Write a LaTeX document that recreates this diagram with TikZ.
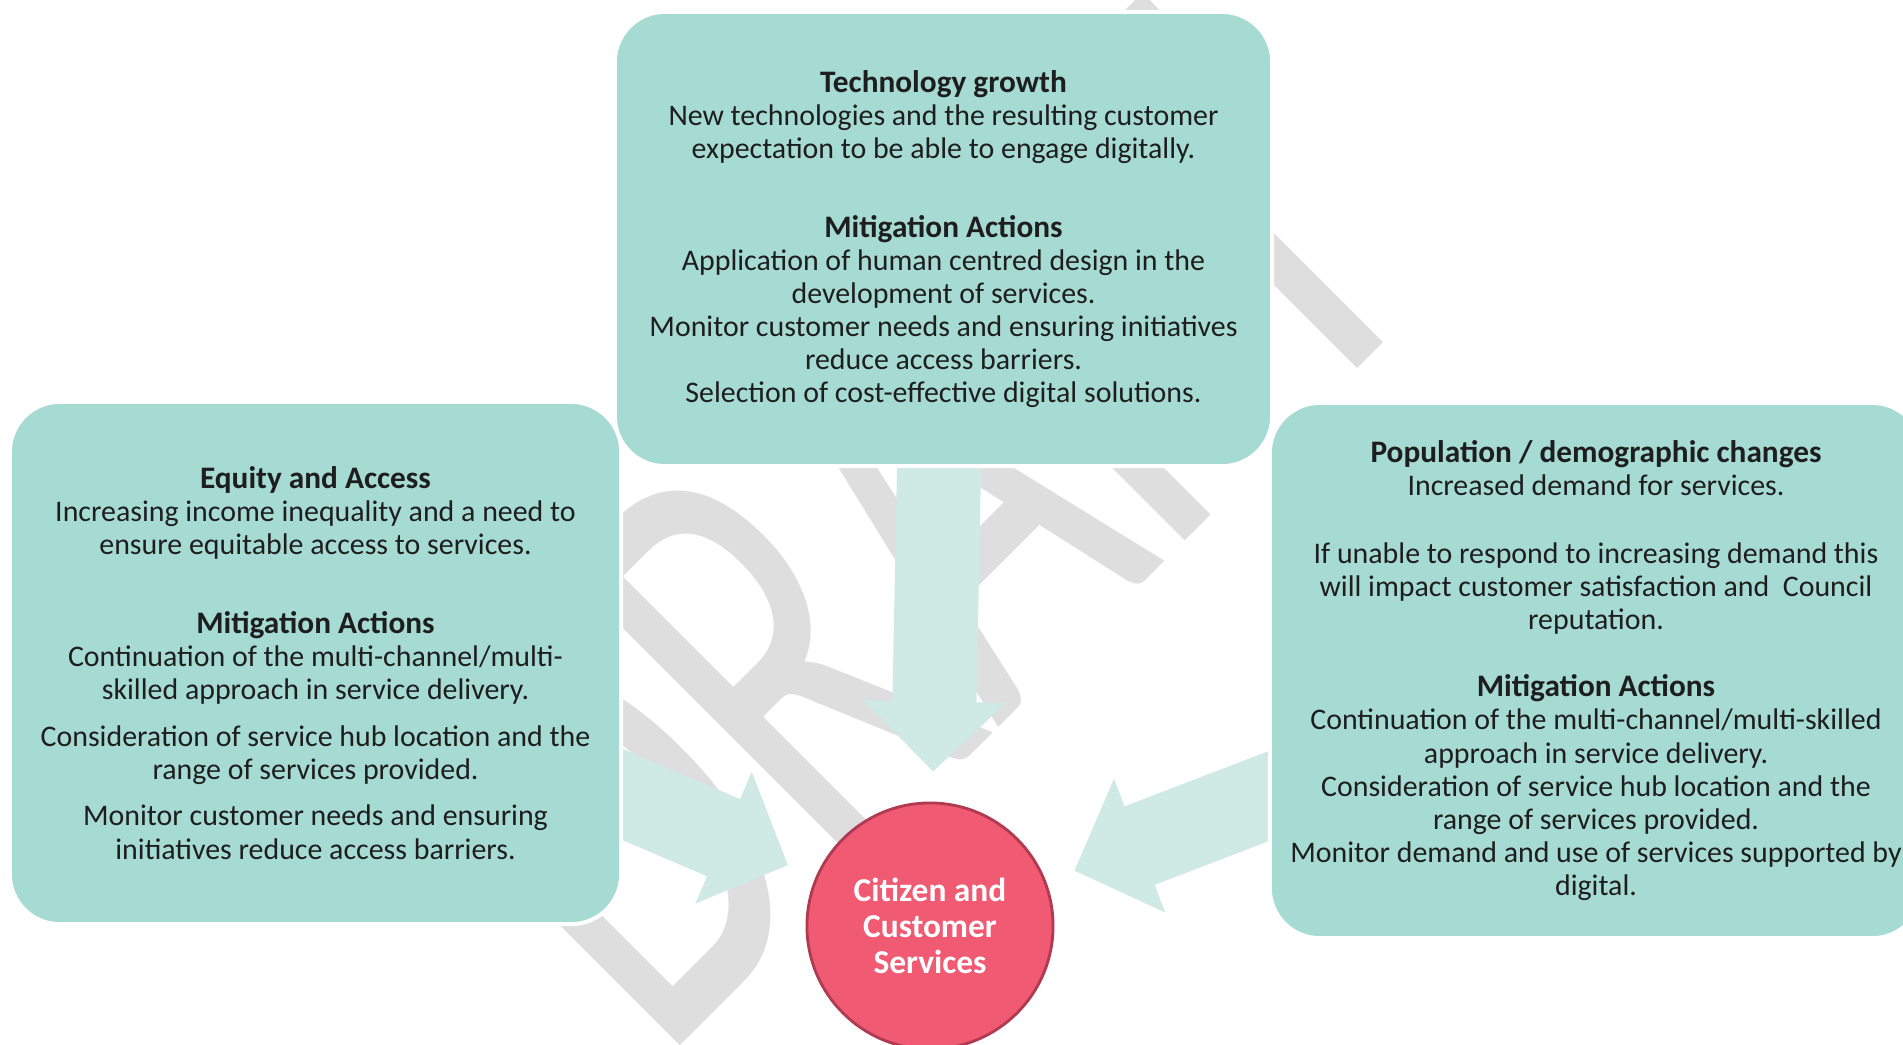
\documentclass[tikz,border=0pt]{standalone}
\usepackage{fontspec}
\setmainfont{Carlito}
\usetikzlibrary{arrows.meta}

\definecolor{cardfill}{HTML}{A6DBD3}
\definecolor{flowfill}{HTML}{CFE9E4}
\definecolor{hubfill}{HTML}{F05A72}
\definecolor{hubline}{HTML}{B03A4F}
\definecolor{inkdark}{HTML}{1E1E1E}
\definecolor{stampgray}{HTML}{DEDEDE}

\pgfdeclarelayer{back}
\pgfdeclarelayer{mid}
\pgfsetlayers{back,mid,main}

% bold heading inside a card
\newcommand{\cardhead}[1]{{\fontsize{8.9}{9.39}\selectfont\bfseries #1}}

\begin{document}
\begin{tikzpicture}[x=0.01cm, y=-0.01cm,
  card/.style={fill=cardfill, draw=white, line width=0.04cm, rounded corners=0.5cm,
    inner sep=0pt, align=center, text=inkdark, font=\fontsize{8.5}{9.39}\selectfont},
  flow/.style={draw=flowfill, line width=0.84cm,
    -{Triangle[length=0.7cm, width=1.39cm]}, shorten >=0.3cm},
  hub/.style={circle, fill=hubfill, draw=hubline, line width=0.8pt, minimum size=2.46cm,
    inner sep=0pt, align=center, text=white, font=\fontsize{9.5}{10.24}\selectfont\bfseries}]

  \useasboundingbox (0,0) rectangle (1903,1044);

  % page and watermark
  \begin{pgfonlayer}{back}
    \fill[white] (0,0) rectangle (1903,1044);
    \node[rotate=45, anchor=base west, inner sep=0pt, text=stampgray,
      font=\fontsize{117}{117}\selectfont] (stamp) at (660,1066) {\scalebox{1}[1.58]{DRAFT}};
  \end{pgfonlayer}

  % left card
  \node[card, minimum width=6.11cm, minimum height=5.22cm] (equity) at (315.5,663) {%
    \cardhead{Equity and Access}\\
    Increasing income inequality and a need to\\
    ensure equitable access to services.\\[0.46cm]
    \cardhead{Mitigation Actions}\\
    Continuation of the multi-channel/multi-\\
    skilled approach in service delivery.\\[0.14cm]
    Consideration of service hub location and the\\
    range of services provided.\\[0.13cm]
    Monitor customer needs and ensuring\\
    initiatives reduce access barriers.};

  % right card
  \node[card, minimum width=6.52cm, minimum height=5.35cm] (people) at (1596,670.5) {%
    \cardhead{Population / demographic changes}\\
    Increased demand for services.\\[0.35cm]
    If unable to respond to increasing demand this\\
    will impact customer satisfaction and\ \ Council\\
    reputation.\\[0.34cm]
    \cardhead{Mitigation Actions}\\
    Continuation of the multi-channel/multi-skilled\\
    approach in service delivery.\\
    Consideration of service hub location and the\\
    range of services provided.\\
    Monitor demand and use of services supported by\\
    digital.};

  % top card
  \node[card, minimum width=6.57cm, minimum height=4.54cm] (tech) at (943.5,239) {%
    \cardhead{Technology growth}\\
    New technologies and the resulting customer\\
    expectation to be able to engage digitally.\\[0.46cm]
    \cardhead{Mitigation Actions}\\
    Application of human centred design in the\\
    development of services.\\
    Monitor customer needs and ensuring initiatives\\
    reduce access barriers.\\
    Selection of cost-effective digital solutions.};

  % centre circle
  \node[hub] (hub) at (930,926) {Citizen and\\Customer\\Services};

  % arrows into the circle
  \begin{pgfonlayer}{mid}
    \draw[flow] (tech.center) -- (hub);
    \draw[flow] (equity.center) -- (hub);
    \draw[flow] (people.center) -- (hub);
  \end{pgfonlayer}

\end{tikzpicture}
\end{document}
